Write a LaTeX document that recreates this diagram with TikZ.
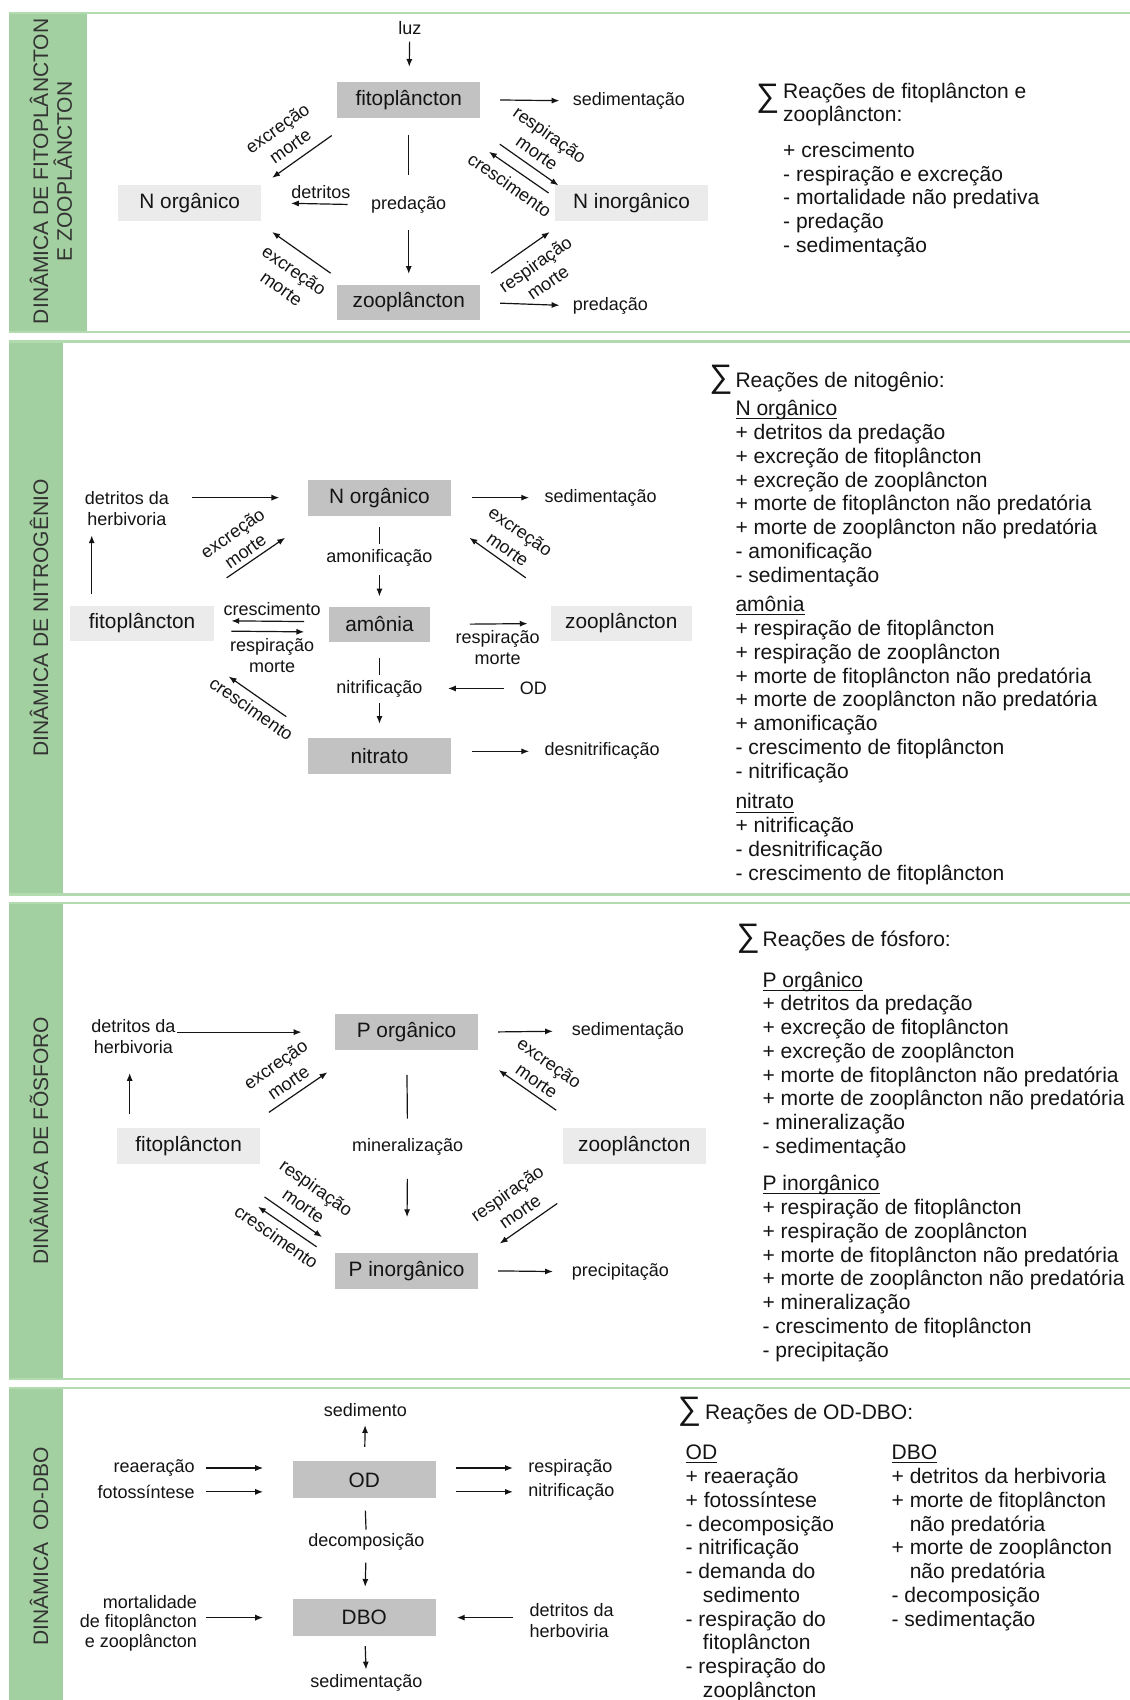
\documentclass[tikz,border=0pt]{standalone}
\usepackage{fontspec}
\setmainfont{Liberation Sans}
\usepackage{xcolor}
\usetikzlibrary{arrows.meta}

\definecolor{bargreen}{HTML}{A3D0A0}
\definecolor{rulegreen}{HTML}{B2DCB0}
\definecolor{boxdark}{HTML}{C2C2C2}
\definecolor{boxlight}{HTML}{EBEBEB}
\definecolor{sidegray}{HTML}{333333}
\definecolor{ink}{HTML}{141414}

% underline that sits close to the baseline
\newcommand\ulx[1]{\underline{\smash{#1}}}

\begin{document}
\begin{tikzpicture}[x=0.5pt, y=-0.5pt,
    dbox/.style={fill=boxdark, minimum width=66pt, minimum height=16.5pt, inner sep=0pt, text=ink, font=\fontsize{9.6}{11}\selectfont},
    lbox/.style={dbox, fill=boxlight},
    lbl/.style={inner sep=0pt, align=center, text=ink, font=\fontsize{8.3}{9.6}\selectfont},
    dlbl/.style={lbl, font=\fontsize{8.3}{10.2}\selectfont},
    sidetxt/.style={rotate=90, inner sep=0pt, align=center, text=sidegray, font=\fontsize{9.7}{11}\selectfont},
    sumsig/.style={inner sep=0pt, text=ink, font=\fontsize{15}{15}\selectfont},
    reac/.style={anchor=north west, inner sep=0pt, align=left, text=ink, font=\fontsize{9.7}{10.95}\selectfont},
    arr/.style={-{Latex[length=3.6pt,width=2.8pt]}, line width=\lw pt, draw=ink},
    lin/.style={line width=\lw pt, draw=ink},
    rulebar/.style={draw=rulegreen, line width=1pt}]
    \def\lw{0.55}
    \def\ang{35}

    \useasboundingbox (0,0) rectangle (1042,1568);
    \fill[white] (0,0) rectangle (1042,1568);

    % ---------------- panel 1: fito / zoo
    \fill[bargreen] (8,12) rectangle (80,306);
    \draw[rulebar] (8,12) -- (1042,12);
    \draw[rulebar] (8,306) -- (1042,306);
    \node[sidetxt] (bar1) at (47,158) {DINÂMICA DE FITOPLÂNCTON\\E ZOOPLÂNCTON};

    \node[dbox] (fitoA) at (377,92) {fitoplâncton};
    \node[lbox] (norgA) at (175,187) {N orgânico};
    \node[lbox, minimum width=70.5pt] (ninoA) at (582.5,187) {N inorgânico};
    \node[dbox] (zooA) at (377,279) {zooplâncton};

    \node[lbl] (luzA) at (378,26) {luz};
    \node[lbl, anchor=west] (sedA) at (528,93) {sedimentação};
    \node[lbl, anchor=west] (predA) at (528,282) {predação};
    \node[lbl] (predcA) at (377,189) {predação};
    \node[lbl] (detA) at (296,177) {detritos};

    \draw[arr, shorten <=3pt, shorten >=6.75pt] (luzA) -- (fitoA);
    \draw[arr, shorten <=9pt, shorten >=6pt] (fitoA.east) -- (sedA.west);
    \draw[arr, shorten <=9pt, shorten >=6pt] (zooA.east) -- (predA.west);
    \draw[lin, shorten <=7.75pt, shorten >=9.5pt] (fitoA) -- (predcA);
    \draw[arr, shorten <=7.6pt, shorten >=4.75pt] (predcA) -- (zooA);
    \draw[arr, shorten <=10.7pt, shorten >=13.5pt] (predcA.west) -- (norgA.east);

    % diagonals
    \coordinate (fnA1) at (306,125); \coordinate (fnA2) at (251,164);
    \coordinate (znA1) at (305,252); \coordinate (znA2) at (251,214);
    \coordinate (fiA1) at (461,133); \coordinate (fiA2) at (515,171);
    \coordinate (ifA1) at (506,178); \coordinate (ifA2) at (451,140);
    \coordinate (ziA1) at (453,252); \coordinate (ziA2) at (507,214);
    \draw[arr] (fnA1) -- (fnA2);
    \draw[arr] (znA1) -- (znA2);
    \draw[arr] (fiA1) -- (fiA2);
    \draw[arr] (ifA1) -- (ifA2);
    \draw[arr] (ziA1) -- (ziA2);
    \node[dlbl, rotate=\ang] (exA1) at (261.6,126.4) {excreção\\morte};
    \node[dlbl, rotate=-\ang] (exA2) at (265.6,257.6) {excreção\\morte};
    \node[dlbl, rotate=-\ang] (rmA1) at (501.4,132.4) {respiração\\morte};
    \node[dlbl, rotate=-\ang] (crA1) at (470.3,170.5) {crescimento};
    \node[dlbl, rotate=\ang] (rmA2) at (499.4,252.1) {respiração\\morte};

    \node[sumsig] (sig1) at (708,91.5) {∑};
    \node[reac] (txt1) at (722,74.7) {\strut Reações de fitoplâncton e\\
        zooplâncton:\\[5.5pt]
        + crescimento\\
        - respiração e excreção\\
        - mortalidade não predativa\\
        - predação\\
        - sedimentação};

    % ---------------- panel 2: nitrogenio
    \fill[bargreen] (8,315) rectangle (58,825);
    \draw[rulebar] (8,315) -- (1042,315);
    \draw[rulebar] (8,825) -- (1042,825);
    \node[sidetxt] (bar2) at (36,570) {DINÂMICA DE NITROGÊNIO};

    \node[dbox] (norgB) at (350,459) {N orgânico};
    \node[lbox] (fitoB) at (131,575) {fitoplâncton};
    \node[dbox, minimum width=47pt, minimum height=16pt] (amoB) at (350,576) {amônia};
    \node[lbox, minimum width=65pt] (zooB) at (573,575) {zooplâncton};
    \node[dbox] (nitB) at (350,697) {nitrato};

    \node[lbl] (detB) at (117,469) {detritos da\\herbivoria};
    \node[lbl, anchor=west] (sedB) at (502,459) {sedimentação};
    \node[lbl] (amfB) at (350,515) {amonificação};
    \node[lbl] (nitfB) at (350,635) {nitrificação};
    \node[lbl] (odB) at (492,635) {OD};
    \node[lbl, anchor=west] (desB) at (502,693) {desnitrificação};
    \node[lbl] (crB) at (251,562) {crescimento};
    \node[lbl] (rmB) at (251,604.5) {respiração\\morte};
    \node[lbl] (rmB2) at (459,597.5) {respiração\\morte};

    \coordinate (fitoBup) at ([xshift=10pt]fitoB.north west);
    \draw[arr, shorten <=5pt, shorten >=4.35pt] (fitoBup) -- (fitoBup |- detB.south);
    \draw[arr, shorten <=10.6pt, shorten >=13pt] (detB.east |- norgB.west) -- (norgB.west);
    \draw[arr, shorten <=9.5pt, shorten >=7pt] (norgB.east) -- (sedB.west);
    \draw[lin, shorten <=5.25pt, shorten >=2.6pt] (norgB) -- (amfB);
    \draw[arr, shorten <=3.6pt, shorten >=4.75pt] (amfB) -- (amoB);
    \draw[lin, shorten <=7.25pt, shorten >=2.1pt] (amoB) -- (nitfB);
    \draw[arr, shorten <=2.6pt, shorten >=6.25pt] (nitfB) -- (nitB);
    \draw[arr, shorten <=7.25pt, shorten >=11.6pt] (odB) -- (nitfB);
    \draw[arr, shorten <=9.5pt, shorten >=7pt] (desB.west -| nitB.east) -- (desB.west);
    \draw[arr, shorten <=11pt, shorten >=8pt] ([yshift=1.25pt]amoB.west) -- ([yshift=1.25pt]fitoB.east);
    \draw[arr, shorten <=8pt, shorten >=11pt] ([yshift=-3.5pt]fitoB.east) -- ([yshift=-3.5pt]amoB.west);
    \draw[arr, shorten <=18pt, shorten >=10.5pt] (amoB.east) -- (zooB.west);

    \coordinate (fnB1) at (209,533); \coordinate (fnB2) at (263,496);
    \coordinate (znB1) at (485,533); \coordinate (znB2) at (433,496);
    \coordinate (nfB1) at (264,661); \coordinate (nfB2) at (211,624);
    \draw[arr] (fnB1) -- (fnB2);
    \draw[arr] (znB1) -- (znB2);
    \draw[arr] (nfB1) -- (nfB2);
    \node[dlbl, rotate=\ang] (exB1) at (220.3,500) {excreção\\morte};
    \node[dlbl, rotate=-\ang] (exB2) at (474.3,498.2) {excreção\\morte};
    \node[dlbl, rotate=-\ang] (crB2) at (232,653.6) {crescimento};

    \node[sumsig] (sig2) at (665,350.5) {∑};
    \node[reac] (txt2) at (678,341.7) {\strut Reações de nitogênio:\\[2.1pt]
        \ulx{N orgânico}\\
        + detritos da predação\\
        + excreção de fitoplâncton\\
        + excreção de zooplâncton\\
        + morte de fitoplâncton não predatória\\
        + morte de zooplâncton não predatória\\
        - amonificação\\
        - sedimentação\\[2.8pt]
        \ulx{amônia}\\
        + respiração de fitoplâncton\\
        + respiração de zooplâncton\\
        + morte de fitoplâncton não predatória\\
        + morte de zooplâncton não predatória\\
        + amonificação\\
        - crescimento de fitoplâncton\\
        - nitrificação\\[3.3pt]
        \ulx{nitrato}\\
        + nitrificação\\
        - desnitrificação\\
        - crescimento de fitoplâncton};

    % ---------------- panel 3: fosforo
    \fill[bargreen] (8,833) rectangle (58,1272);
    \draw[rulebar] (8,833) -- (1042,833);
    \draw[rulebar] (8,1272) -- (1042,1272);
    \node[sidetxt] (bar3) at (36,1052) {DINÂMICA DE FÕSFORO};

    \node[dbox] (porgC) at (375,952) {P orgânico};
    \node[lbox] (fitoC) at (174,1057) {fitoplâncton};
    \node[lbox] (zooC) at (585,1057) {zooplâncton};
    \node[dbox] (pinoC) at (375,1172) {P inorgânico};

    \node[lbl] (detC) at (123,956) {detritos da\\herbivoria};
    \node[lbl, anchor=west] (sedC) at (527,951) {sedimentação};
    \node[lbl, anchor=west] (preC) at (527,1173) {precipitação};
    \node[lbl] (minC) at (376,1058) {mineralização};

    \coordinate (fitoCup) at ([xshift=6pt]fitoC.north west);
    \draw[arr, shorten <=6.25pt, shorten >=8.8pt] (fitoCup) -- (fitoCup |- detC.south);
    \draw[arr, shorten <=0.6pt, shorten >=15.25pt] (detC.east |- porgC.west) -- (porgC.west);
    \draw[arr, shorten <=9pt, shorten >=8.5pt] (porgC.east) -- (sedC.west);
    \draw[arr, shorten <=9pt, shorten >=8.5pt] (pinoC.east) -- (preC.west);
    \draw[lin, shorten <=11.25pt, shorten >=9pt] (porgC) -- (minC);
    \draw[arr, shorten <=10.6pt, shorten >=16.25pt] (minC) -- (pinoC);

    \coordinate (fpC1) at (248,1026); \coordinate (fpC2) at (302,989);
    \coordinate (zpC1) at (513,1024); \coordinate (zpC2) at (460,987);
    \coordinate (fiC1) at (244,1104); \coordinate (fiC2) at (297,1141);
    \coordinate (ifC1) at (292,1150); \coordinate (ifC2) at (238,1113);
    \coordinate (ziC1) at (514,1110); \coordinate (ziC2) at (461,1147);
    \draw[arr] (fpC1) -- (fpC2);
    \draw[arr] (zpC1) -- (zpC2);
    \draw[arr] (fiC1) -- (fiC2);
    \draw[arr] (ifC1) -- (ifC2);
    \draw[arr] (ziC1) -- (ziC2);
    \node[dlbl, rotate=\ang] (exC1) at (260,990) {excreção\\morte};
    \node[dlbl, rotate=-\ang] (exC2) at (501,988.5) {excreção\\morte};
    \node[dlbl, rotate=-\ang] (rmC1) at (286,1103.6) {respiração\\morte};
    \node[dlbl, rotate=-\ang] (crC1) at (255,1140.6) {crescimento};
    \node[dlbl, rotate=\ang] (rmC2) at (473.5,1109) {respiração\\morte};

    \node[sumsig] (sig3) at (690,866) {∑};
    \node[reac] (txt3) at (703,857.7) {\strut Reações de fósforo:\\[7.6pt]
        \ulx{P orgânico}\\
        + detritos da predação\\
        + excreção de fitoplâncton\\
        + excreção de zooplâncton\\
        + morte de fitoplâncton não predatória\\
        + morte de zooplâncton não predatória\\
        - mineralização\\
        - sedimentação\\[6.3pt]
        \ulx{P inorgânico}\\
        + respiração de fitoplâncton\\
        + respiração de zooplâncton\\
        + morte de fitoplâncton não predatória\\
        + morte de zooplâncton não predatória\\
        + mineralização\\
        - crescimento de fitoplâncton\\
        - precipitação};

    % ---------------- panel 4: OD-DBO
    \fill[bargreen] (8,1280) rectangle (58,1568);
    \draw[rulebar] (8,1280) -- (1042,1280);
    \node[sidetxt] (bar4) at (36,1426) {DINÂMICA\ \ OD-DBO};

    \node[dbox, minimum height=17pt] (odD) at (336,1365) {OD};
    \node[dbox, minimum height=17pt] (dboD) at (336,1492) {DBO};

    \node[lbl] (sdD) at (337,1301) {sedimento};
    \node[lbl, anchor=east] (reaD) at (180,1354) {reaeração};
    \node[lbl, anchor=east] (fotD) at (180,1376) {fotossíntese};
    \node[lbl, anchor=west] (resD) at (487,1354) {respiração};
    \node[lbl, anchor=west] (nitD) at (487,1376) {nitrificação};
    \node[lbl] (decD) at (338,1422) {decomposição};
    \node[lbl, anchor=east, align=right, font=\fontsize{8.3}{9}\selectfont] (morD) at (182,1497) {mortalidade\\de fitoplâncton\\e zooplâncton};
    \node[lbl, anchor=west, align=left] (hrbD) at (488,1494.5) {detritos da\\herboviria};
    \node[lbl] (sdtD) at (338,1552) {sedimentação};

    \draw[arr, shorten <=6.5pt, shorten >=3.5pt] (odD) -- (sdD);
    \draw[arr, shorten <=5pt, shorten >=13.5pt] (reaD.east) -- (reaD.east -| odD.west);
    \draw[arr, shorten <=5pt, shorten >=13.5pt] (fotD.east) -- (fotD.east -| odD.west);
    \draw[arr, shorten <=9pt, shorten >=7pt] (resD.west -| odD.east) -- (resD.west);
    \draw[arr, shorten <=9pt, shorten >=7pt] (nitD.west -| odD.east) -- (nitD.west);
    \draw[lin, shorten <=5.5pt, shorten >=1.5pt] (odD) -- (decD);
    \draw[arr, shorten <=5.5pt, shorten >=5.5pt] (decD) -- (dboD);
    \draw[arr, shorten <=4pt, shorten >=13.5pt] (morD.east |- dboD.west) -- (dboD.west);
    \draw[arr, shorten <=7.5pt, shorten >=9.5pt] (hrbD.west |- dboD.east) -- (dboD.east);
    \draw[arr, shorten <=4.5pt, shorten >=2pt] (dboD) -- (sdtD);

    \node[sumsig] (sig4) at (636,1302) {∑};
    \node[reac] (txt4) at (650,1293.7) {\strut Reações de OD-DBO:};
    \node[reac] (txt4a) at (632,1330.7) {\strut\ulx{OD}\\
        + reaeração\\
        + fotossíntese\\
        - decomposição\\
        - nitrificação\\
        - demanda do\\
        \hspace*{8pt}sedimento\\
        - respiração do\\
        \hspace*{8pt}fitoplâncton\\
        - respiração do\\
        \hspace*{8pt}zooplâncton};
    \node[reac] (txt4b) at (822,1330.7) {\strut\ulx{DBO}\\
        + detritos da herbivoria\\
        + morte de fitoplâncton\\
        \phantom{+ }não predatória\\
        + morte de zooplâncton\\
        \phantom{+ }não predatória\\
        - decomposição\\
        - sedimentação};

\end{tikzpicture}
\end{document}
